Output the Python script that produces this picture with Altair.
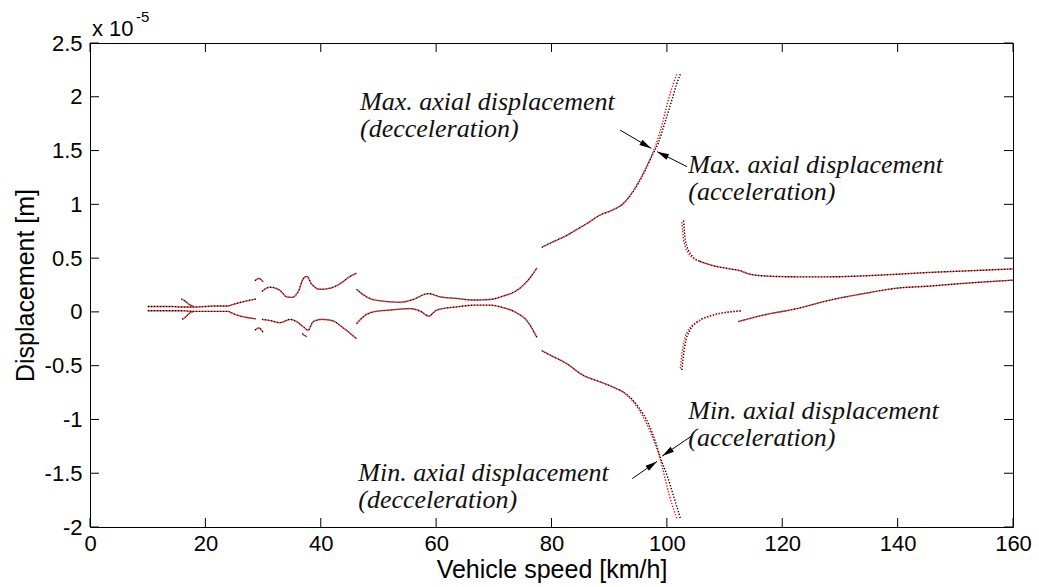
import math
import altair as alt
import pandas as pd

W, H = 923, 484
X_DOMAIN = [0, 160]
Y_DOMAIN = [-2.0, 2.5]

x_ticks = [0, 20, 40, 60, 80, 100, 120, 140, 160]
y_ticks = [-2, -1.5, -1, -0.5, 0, 0.5, 1, 1.5, 2, 2.5]

# ---- displacement traces: speed in km/h, displacement in 1e-5 m ----
band_x = [10, 12, 14, 16, 18, 20, 22, 24]
band_hi = [0.05, 0.05, 0.05, 0.045, 0.045, 0.05, 0.055, 0.055]
band_lo = [0.01, 0.01, 0.01, 0.01, 0.005, 0.005, 0.005, 0.005]

spike_hi_x = [15.8, 16.5, 17.2, 18.0]
spike_hi = [0.12, 0.10, 0.07, 0.05]
spike_lo_x = [16.0, 16.7, 17.3, 18.0]
spike_lo = [-0.07, -0.04, -0.01, 0.005]

fan_x = [24, 25.5, 27, 28.8]
fan_hi = [0.055, 0.08, 0.10, 0.12]
fan_lo = [0.005, -0.03, -0.05, -0.065]

stub_x = [28.6, 29.3, 30.0]
stub_hi = [0.29, 0.31, 0.28]
stub_lo = [-0.17, -0.15, -0.19]
stub2_x = [36.8, 37.2, 37.6]
stub2_lo = [-0.20, -0.22, -0.23]

wave_hi_x = [29.8, 31.2, 32.9, 34.1, 35.0, 36.1, 37.0, 37.6, 38.4, 39.9, 41.6, 43.3, 45.1, 46.2]
wave_hi = [0.19, 0.23, 0.20, 0.14, 0.135, 0.19, 0.31, 0.33, 0.26, 0.21, 0.22, 0.26, 0.33, 0.36]
wave_lo_x = [29.8, 31.2, 32.9, 34.7, 35.8, 37.0, 37.8, 38.7, 40.2, 41.9, 43.7, 45.1, 46.2]
wave_lo = [-0.07, -0.08, -0.10, -0.07, -0.09, -0.14, -0.17, -0.09, -0.07, -0.08, -0.14, -0.20, -0.25]

mid_hi_x = [46.2, 47.1, 48.5, 50.8, 53.7, 56.0, 58.6, 60.7, 63.6, 66.4, 69.3, 71.6, 74.0, 75.7, 77.5]
mid_hi = [0.21, 0.17, 0.125, 0.10, 0.09, 0.115, 0.17, 0.14, 0.125, 0.11, 0.115, 0.147, 0.20, 0.28, 0.41]
mid_lo_x = [46.2, 47.4, 49.1, 52.0, 55.5, 57.5, 58.7, 60.1, 63.6, 67.0, 69.3, 71.6, 74.0, 75.7, 77.5]
mid_lo = [-0.11, -0.045, 0.0, 0.017, 0.03, 0.0, -0.04, 0.017, 0.047, 0.063, 0.063, 0.04, -0.01, -0.08, -0.24]

rise_y = [0.60, 0.645, 0.71, 0.77, 0.82, 0.90, 0.95, 1.01, 1.13, 1.29, 1.46, 1.57, 1.75, 1.94, 2.12, 2.22]
rise_x_dec = [78.3, 80.0, 82.6, 84.5, 86.1, 88.4, 90.7, 92.5, 94.2, 95.9, 97.4, 98.2, 99.2, 100.1, 101.1, 101.8]
rise_x_acc = [78.3, 80.0, 82.6, 84.5, 86.1, 88.4, 90.7, 92.5, 94.3, 96.0, 97.5, 98.5, 99.6, 100.7, 101.7, 102.4]

fall_y = [-0.36, -0.40, -0.48, -0.59, -0.65, -0.70, -0.77, -0.88, -1.04, -1.22, -1.36, -1.53, -1.72, -1.93]
fall_x_dec = [78.3, 79.7, 82.6, 85.5, 88.4, 90.7, 93.0, 94.8, 96.5, 97.9, 98.8, 99.6, 100.5, 101.8]
fall_x_acc = [78.3, 79.7, 82.6, 85.5, 88.4, 90.7, 93.1, 95.0, 96.8, 98.1, 98.9, 100.1, 101.2, 102.4]

drop_y = [0.85, 0.67, 0.54, 0.47]
drop_x_dec = [102.6, 102.9, 103.8, 105.7]
drop_x_acc = [102.9, 103.2, 104.1, 105.7]

tail_hi_x = [105.7, 108.0, 110.9, 112.9, 113.8, 116.7, 122.5, 128.3, 134.1, 139.8, 145.6, 151.4, 160]
tail_hi = [0.47, 0.43, 0.40, 0.38, 0.36, 0.335, 0.326, 0.326, 0.335, 0.35, 0.367, 0.38, 0.40]

hook_y = [-0.54, -0.32, -0.17, -0.08, -0.03, 0.0, 0.01]
hook_x_dec = [102.3, 102.8, 103.7, 105.6, 108.0, 110.9, 112.9]
hook_x_acc = [102.6, 103.1, 104.0, 105.7, 108.0, 110.9, 112.9]

tail_lo_x = [112.4, 116.7, 122.5, 128.3, 134.1, 139.8, 145.6, 151.4, 160]
tail_lo = [-0.09, -0.03, 0.03, 0.11, 0.17, 0.22, 0.24, 0.265, 0.295]

# pieces drawn identically for both runs
shared = {
    "band_hi": (band_x, band_hi), "band_lo": (band_x, band_lo),
    "spike_hi": (spike_hi_x, spike_hi), "spike_lo": (spike_lo_x, spike_lo),
    "fan_hi": (fan_x, fan_hi), "fan_lo": (fan_x, fan_lo),
    "stub_hi": (stub_x, stub_hi), "stub_lo": (stub_x, stub_lo),
    "stub2_lo": (stub2_x, stub2_lo),
    "wave_hi": (wave_hi_x, wave_hi), "wave_lo": (wave_lo_x, wave_lo),
    "mid_hi": (mid_hi_x, mid_hi), "mid_lo": (mid_lo_x, mid_lo),
    "tail_hi": (tail_hi_x, tail_hi), "tail_lo": (tail_lo_x, tail_lo),
}
# pieces where the acceleration and deceleration runs separate
per_run = {
    "rise": {"acc": (rise_x_acc, rise_y), "dec": (rise_x_dec, rise_y)},
    "fall": {"acc": (fall_x_acc, fall_y), "dec": (fall_x_dec, fall_y)},
    "drop": {"acc": (drop_x_acc, drop_y), "dec": (drop_x_dec, drop_y)},
    "hook": {"acc": (hook_x_acc, hook_y), "dec": (hook_x_dec, hook_y)},
}

rows = []
for run in ("acc", "dec"):
    for name, (xs, ys) in shared.items():
        for i, (a, b) in enumerate(zip(xs, ys)):
            rows.append({"run": run, "piece": name, "i": i, "speed": a, "disp": b})
    for name, runs in per_run.items():
        xs, ys = runs[run]
        for i, (a, b) in enumerate(zip(xs, ys)):
            rows.append({"run": run, "piece": name, "i": i, "speed": a, "disp": b})
traces = pd.DataFrame(rows)

# ---- annotations ----
note_text = ["Max. axial displacement", "(decceleration)",
             "Max. axial displacement", "(acceleration)",
             "Min. axial displacement", "(acceleration)",
             "Min. axial displacement", "(decceleration)"]
note_x = [46.8, 46.8, 103.7, 103.7, 103.7, 103.7, 46.5, 46.5]
note_y = [1.877, 1.626, 1.291, 1.040, -0.996, -1.247, -1.572, -1.823]

arrow_x0 = [91.9, 103.5, 104.4, 94.0]
arrow_y0 = [1.69, 1.35, -1.15, -1.55]
arrow_x1 = [97.3, 98.3, 99.2, 98.3]
arrow_y1 = [1.52, 1.49, -1.34, -1.39]

sx = W / (X_DOMAIN[1] - X_DOMAIN[0])
sy = H / (Y_DOMAIN[1] - Y_DOMAIN[0])
HEAD = 12  # arrowhead length in px
head_rows = []
for x0, y0, x1, y1 in zip(arrow_x0, arrow_y0, arrow_x1, arrow_y1):
    dx = (x1 - x0) * sx
    dy = -(y1 - y0) * sy
    L = math.hypot(dx, dy)
    ux, uy = dx / L, dy / L
    head_rows.append({
        "speed": x1 - (HEAD / 2) * ux / sx,
        "disp": y1 + (HEAD / 2) * uy / sy,
        "angle": math.degrees(math.atan2(ux, -uy)) % 360,
    })
heads = pd.DataFrame(head_rows)
arrows = pd.DataFrame({"speed": arrow_x0, "disp": arrow_y0,
                       "speed2": arrow_x1, "disp2": arrow_y1})
notes = pd.DataFrame({"speed": note_x, "disp": note_y, "label": note_text})

LABEL_FONT = "Liberation Sans"
X = alt.X("speed:Q", scale=alt.Scale(domain=X_DOMAIN, nice=False, zero=False),
          axis=alt.Axis(values=x_ticks, title="Vehicle speed [km/h]", labelFlush=False,
                        labelOverlap=False, labelPadding=6, titlePadding=3,
                        labelExpr="'' + datum.value"))
Y = alt.Y("disp:Q", scale=alt.Scale(domain=Y_DOMAIN, nice=False, zero=False),
          axis=alt.Axis(values=y_ticks, title="Displacement [m]", labelFlush=False,
                        labelOverlap=False, labelPadding=8, titlePadding=6,
                        labelExpr="'' + datum.value"))

base = alt.Chart(traces).encode(x=X, y=Y, detail="piece:N", order="i:Q")
acc_line = base.transform_filter(alt.datum.run == "acc").mark_line(
    color="#000000", strokeWidth=1.4, strokeDash=[1.3, 1.7], clip=True,
    interpolate="monotone")
dec_line = base.transform_filter(alt.datum.run == "dec").mark_line(
    color="#ff0000", strokeWidth=1.4, strokeDash=[1.3, 1.7], strokeDashOffset=1.5,
    clip=True, interpolate="monotone")

# inward tick marks on all four sides
xt = pd.DataFrame({"speed": x_ticks})
yt = pd.DataFrame({"disp": y_ticks})
tick_style = dict(color="#000000", strokeWidth=1)
xt_bottom = alt.Chart(xt).mark_rule(**tick_style).encode(x=X, y=alt.value(H), y2=alt.value(H - 9))
xt_top = alt.Chart(xt).mark_rule(**tick_style).encode(x=X, y=alt.value(0), y2=alt.value(9))
yt_left = alt.Chart(yt).mark_rule(**tick_style).encode(y=Y, x=alt.value(0), x2=alt.value(9))
yt_right = alt.Chart(yt).mark_rule(**tick_style).encode(y=Y, x=alt.value(W - 9), x2=alt.value(W))

arrow_lines = alt.Chart(arrows).mark_rule(color="#000000", strokeWidth=1).encode(
    x=X, y=Y, x2="speed2:Q", y2="disp2:Q")
arrow_heads = alt.Chart(heads).mark_point(
    shape="M0,-1L0.5,1L-0.5,1Z", filled=True, color="#000000", opacity=1,
    size=HEAD * HEAD, strokeWidth=0).encode(x=X, y=Y, angle=alt.Angle("angle:Q", scale=None))

note_marks = alt.Chart(notes).mark_text(
    font="Liberation Serif", fontStyle="italic", fontSize=26, align="left",
    baseline="alphabetic", color="#111111").encode(x=X, y=Y, text="label:N")

exp_base = alt.Chart(pd.DataFrame({"t": ["x 10"]})).mark_text(
    font=LABEL_FONT, fontSize=22, align="left", baseline="alphabetic", color="#000000"
).encode(text="t:N", x=alt.value(2), y=alt.value(-7))
exp_pow = alt.Chart(pd.DataFrame({"t": ["-5"]})).mark_text(
    font=LABEL_FONT, fontSize=15, align="left", baseline="alphabetic", color="#000000"
).encode(text="t:N", x=alt.value(46), y=alt.value(-21))

chart = alt.layer(
    acc_line, dec_line, xt_bottom, xt_top, yt_left, yt_right,
    arrow_lines, arrow_heads, note_marks, exp_base, exp_pow
).properties(
    width=W, height=H,
    background="white",
    autosize=alt.AutoSizeParams(type="none"),
    padding={"left": 90, "top": 43, "right": 26, "bottom": 60},
).configure_view(
    stroke="#000000", strokeWidth=1
).configure_axis(
    domain=False, ticks=False, grid=False,
    labelFont=LABEL_FONT, labelFontSize=22, labelColor="#000000",
    titleFont=LABEL_FONT, titleFontSize=25, titleFontWeight="normal", titleColor="#000000",
)

chart.save("out.html", embed_options={"renderer": "svg", "actions": False})
